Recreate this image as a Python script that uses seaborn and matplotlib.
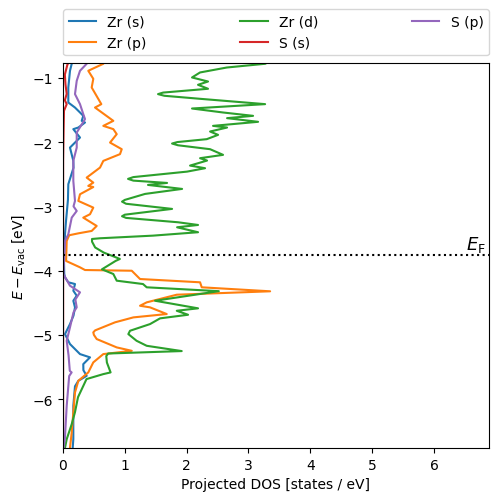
import matplotlib
matplotlib.use("Agg")
import matplotlib.pyplot as plt
import numpy as np
import pandas as pd
import seaborn as sns

# Energies (eV, relative to vacuum) and projected DOS
zr_s_energy = [-0.766, -0.782, -0.891, -1.151, -1.385, -1.463, -1.540, -1.592, -1.670, -1.696,
               -1.774, -1.799, -1.930, -2.086, -2.293, -2.400, -2.656, -2.900, -3.227, -3.435,
               -3.850, -4.050, -4.104, -4.182, -4.209, -4.313, -4.391, -4.469, -4.572, -4.700,
               -4.832, -4.988, -5.143, -5.299, -5.350, -5.455, -5.550, -5.637, -5.715, -5.800,
               -6.104, -6.623, -6.760]
zr_s_dos = [0.141, 0.141, 0.113, 0.086, 0.086, 0.194, 0.275, 0.328, 0.303, 0.356,
            0.248, 0.167, 0.275, 0.113, 0.167, 0.170, 0.086, 0.080, 0.049, 0.032,
            0.016, 0.020, 0.032, 0.086, 0.194, 0.167, 0.222, 0.167, 0.194, 0.170,
            0.113, 0.032, 0.113, 0.275, 0.437, 0.328, 0.330, 0.383, 0.248, 0.194,
            0.167, 0.167, 0.157]

zr_p_energy = [-0.766, -0.782, -0.891, -1.016, -1.151, -1.410, -1.463, -1.670, -1.748, -1.799,
               -1.877, -2.008, -2.111, -2.188, -2.293, -2.397, -2.553, -2.631, -2.682, -2.700,
               -2.812, -2.916, -3.020, -3.123, -3.176, -3.305, -3.383, -3.420, -3.450, -3.539,
               -3.850, -3.949, -3.991, -4.002, -4.131, -4.182, -4.260, -4.322, -4.375, -4.494,
               -4.547, -4.572, -4.676, -4.728, -4.805, -4.930, -4.961, -5.000, -5.065, -5.195,
               -5.248, -5.299, -5.428, -5.584, -5.715, -5.896, -6.207, -6.519, -6.760]
zr_p_dos = [0.660, 0.652, 0.409, 0.490, 0.464, 0.620, 0.518, 0.814, 0.652, 0.814,
            0.869, 0.761, 0.950, 0.922, 0.652, 0.599, 0.383, 0.490, 0.409, 0.490,
            0.275, 0.248, 0.490, 0.437, 0.328, 0.545, 0.464, 0.250, 0.100, 0.060,
            0.050, 0.275, 0.356, 1.112, 1.246, 2.217, 2.244, 3.350, 1.840, 1.354,
            1.246, 1.408, 1.678, 1.138, 0.841, 0.520, 0.490, 0.500, 0.545, 0.869,
            1.112, 0.652, 0.490, 0.409, 0.248, 0.194, 0.167, 0.141, 0.113]

zr_d_energy = [-0.766, -0.782, -0.840, -0.917, -0.995, -1.058, -1.109, -1.171, -1.230, -1.254,
               -1.280, -1.327, -1.410, -1.478, -1.540, -1.592, -1.628, -1.685, -1.748, -1.774,
               -1.836, -1.888, -1.955, -2.000, -2.023, -2.050, -2.111, -2.199, -2.251, -2.288,
               -2.366, -2.407, -2.460, -2.545, -2.573, -2.600, -2.636, -2.667, -2.729, -2.807,
               -2.900, -2.927, -2.960, -3.040, -3.130, -3.154, -3.180, -3.248, -3.290, -3.326,
               -3.403, -3.456, -3.497, -3.508, -3.550, -3.640, -3.720, -3.780, -3.819, -3.850,
               -3.980, -4.053, -4.157, -4.209, -4.260, -4.320, -4.469, -4.587, -4.625, -4.687,
               -4.743, -4.832, -4.936, -4.988, -5.092, -5.170, -5.252, -5.290, -5.330, -5.430,
               -5.584, -5.611, -5.688, -5.969, -6.202, -6.389, -6.623, -6.760]
zr_d_dos = [3.300, 3.270, 2.650, 2.217, 2.087, 2.346, 2.184, 2.346, 1.620, 1.537,
            1.640, 2.217, 3.269, 2.087, 2.589, 3.074, 2.654, 3.155, 2.427, 2.654,
            2.379, 2.508, 2.325, 1.850, 1.764, 1.860, 2.379, 2.589, 2.217, 2.330,
            2.055, 2.298, 2.006, 1.138, 1.052, 1.138, 1.683, 1.375, 1.926, 1.327,
            1.000, 0.955, 1.020, 1.764, 1.000, 0.955, 1.020, 1.861, 2.184, 1.845,
            2.184, 1.456, 0.599, 0.469, 0.470, 0.520, 0.660, 0.820, 0.920, 0.850,
            0.630, 0.814, 0.869, 1.294, 1.354, 2.520, 1.489, 2.184, 1.840, 2.023,
            1.570, 1.408, 1.084, 1.057, 1.190, 1.354, 1.920, 0.730, 0.700, 0.710,
            0.770, 0.650, 0.380, 0.243, 0.194, 0.141, 0.060, 0.032]

s_s_energy = [-0.766, -0.800, -0.950, -1.100, -1.250, -1.350, -1.410, -1.514, -1.800, -2.300,
              -6.760]
s_s_dos = [0.086, 0.070, 0.030, 0.040, 0.060, 0.030, 0.060, 0.016, 0.010, 0.002,
           0.002]

s_p_energy = [-0.766, -0.782, -0.891, -1.047, -1.254, -1.410, -1.565, -1.643, -1.852, -2.086,
              -2.293, -2.604, -2.916, -3.000, -3.072, -3.176, -3.435, -3.539, -3.850, -4.053,
              -4.235, -4.338, -4.450, -4.572, -4.650, -4.883, -5.092, -5.320, -5.560, -5.584,
              -5.640, -6.104, -6.623, -6.760]
s_p_dos = [0.390, 0.383, 0.275, 0.222, 0.194, 0.275, 0.328, 0.356, 0.222, 0.222,
           0.167, 0.167, 0.194, 0.170, 0.222, 0.141, 0.086, 0.032, 0.016, 0.005,
           0.113, 0.275, 0.200, 0.222, 0.170, 0.113, 0.060, 0.090, 0.110, 0.140,
           0.100, 0.060, 0.030, 0.010]

orbitals = ["Zr (s)", "Zr (p)", "Zr (d)", "S (s)", "S (p)"]
fermi_level = -3.757

series = {
    "Zr (s)": (zr_s_energy, zr_s_dos),
    "Zr (p)": (zr_p_energy, zr_p_dos),
    "Zr (d)": (zr_d_energy, zr_d_dos),
    "S (s)": (s_s_energy, s_s_dos),
    "S (p)": (s_p_energy, s_p_dos),
}
frames = []
for name in orbitals:
    e, d = series[name]
    frames.append(pd.DataFrame({"orbital": name, "energy": e, "dos": d}))
df = pd.concat(frames, ignore_index=True)

fig = plt.figure(figsize=(4.98, 5.02), dpi=100)
ax = fig.add_axes([0.1265, 0.1056, 0.8554, 0.7669])

sns.lineplot(data=df, x="dos", y="energy", hue="orbital", hue_order=orbitals,
             palette=["C0", "C1", "C2", "C3", "C4"], sort=False, estimator=None,
             linewidth=1.5, ax=ax)

ax.axhline(fermi_level, color="k", linestyle=":", linewidth=1.5)
ax.text(6.84, fermi_level + 0.02, r"$E_\mathrm{F}$", ha="right", va="bottom", fontsize=13)

ax.set_xlim(0, 6.89)
ax.set_ylim(-6.76, -0.77)
ax.set_xlabel("Projected DOS [states / eV]")
ax.set_ylabel(r"$E - E_\mathrm{vac}$ [eV]")

sns.move_legend(ax, "lower left", bbox_to_anchor=(0, 1.02, 1, 0.102), mode="expand",
                ncol=3, borderaxespad=0, title=None, frameon=True)

fig.savefig("out.png", dpi=100)
